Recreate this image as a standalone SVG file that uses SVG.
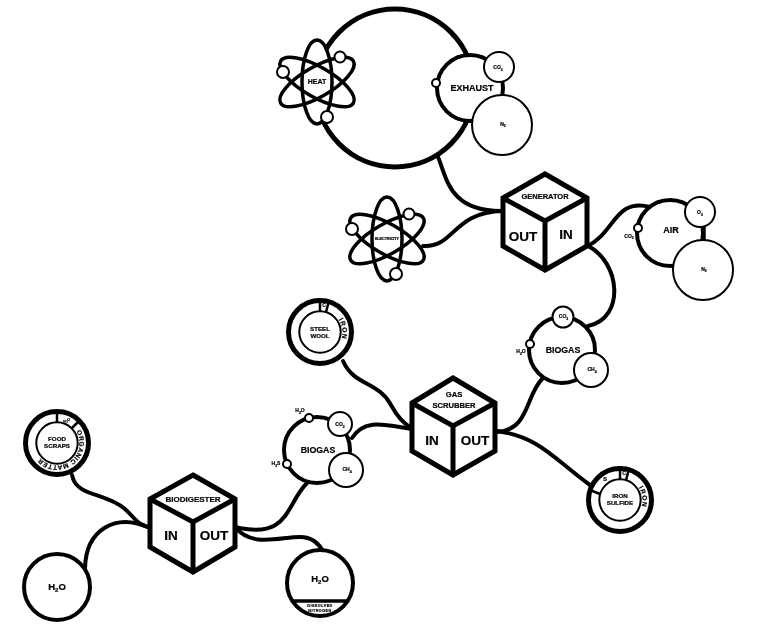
<svg xmlns="http://www.w3.org/2000/svg" width="764" height="630" viewBox="0 0 764 630">
<style>
text{font-family:"Liberation Sans",Arial,sans-serif;font-weight:700;fill:#000;text-anchor:middle;stroke:#000;stroke-width:.2}
.con{fill:none;stroke:#000;stroke-width:4;stroke-linecap:round}
.n{fill:#fff;stroke:#000;stroke-width:4}
.b{fill:#fff;stroke:#000;stroke-width:5}
.t{fill:#fff;stroke:#000;stroke-width:2}
.w{fill:#fff;stroke:none}
.o{fill:none;stroke:#000;stroke-width:3.500}
.cube{fill:#fff;stroke:#000;stroke-width:5}
.in{fill:none;stroke:#000;stroke-width:5}
.l{fill:none;stroke:#000;stroke-width:2.500}
.i{fill:none;stroke:#000;stroke-width:2}
.xl{font-size:13.500px}.lg{font-size:9px}.md{font-size:8px}.sm{font-size:6.200px}.xs{font-size:5px}.xxs{font-size:3.700px}
.ring{font-size:6.500px;letter-spacing:1px;text-anchor:start}
</style>
<defs>
<path id="p-steel" d="M320 309.500A22.500 22.500 0 0 1 320 354.500"/>
<path id="p-iron" d="M620 477.500A22.500 22.500 0 0 1 620 522.500"/>
<path id="p-org" d="M57 420.500A22.500 22.500 0 1 1 56.900 420.500"/>
<g id="atom">
<ellipse class="w" rx="15" ry="42"/>
<ellipse class="w" rx="15" ry="42" transform="rotate(60)"/>
<ellipse class="w" rx="15" ry="42" transform="rotate(-60)"/>
<ellipse class="o" rx="15" ry="42"/>
<ellipse class="o" rx="15" ry="42" transform="rotate(60)"/>
<ellipse class="o" rx="15" ry="42" transform="rotate(-60)"/>
</g>
<filter id="flat" x="0" y="0" width="100%" height="100%" color-interpolation-filters="sRGB"><feOffset dx="0" dy="0"/></filter>
</defs>
<g filter="url(#flat)">
<rect width="764" height="630" fill="#fff"/>
<g id="connectors">
<path class="con" d="M438 157C447 178 449 212 503 211"/>
<path class="con" d="M423 246C455 248 452 212 503 211"/>
<path class="con" d="M588 246C615 232 615 198 650 207"/>
<path class="con" d="M588 246C620 262 626 318 588 326"/>
<path class="con" d="M543 378C525 395 530 430 497 432"/>
<path class="con" d="M497 431C540 437 555 460 590 485"/>
<path class="con" d="M343 361C354 386 378 381 391 405C397 416 403 424 412 428"/>
<path class="con" d="M352 438C365 418 385 425 412 429"/>
<path class="con" d="M235 527C290 540 285 505 307 483"/>
<path class="con" d="M235 527C252 548 280 537 300 537C312 537 318 543 323 551"/>
<path class="con" d="M72 475C76 497 105 492 125 509C135 518 138 526 150 527"/>
<path class="con" d="M85 568C86 530 115 512 150 528"/>
</g>
<g id="heat-cycle"><circle cx="395" cy="88" r="79" fill="#fff" stroke="#000" stroke-width="5"/></g>
<g id="heat">
<use href="#atom" transform="translate(317 82)"/>
<circle class="t" cx="340" cy="57" r="5.500"/><circle class="t" cx="283" cy="72" r="6"/><circle class="t" cx="327" cy="117" r="6"/>
<text x="317" y="83.500" font-size="7">HEAT</text>
</g>
<g id="exhaust">
<circle class="n" cx="470" cy="88" r="33"/>
<circle class="t" cx="499" cy="67" r="15"/>
<circle class="t" cx="502" cy="125" r="30"/>
<circle class="t" cx="436" cy="83" r="4"/>
<text class="lg" x="472" y="91">EXHAUST</text>
<text class="xs" x="498" y="69">CO<tspan font-size="3.500" dy="1.500">2</tspan></text>
<text class="xs" x="503" y="125.500">N<tspan font-size="3.500" dy="1.500">2</tspan></text>
</g>
<g id="electricity">
<use href="#atom" transform="translate(387 239)"/>
<circle class="t" cx="409" cy="214" r="5.500"/><circle class="t" cx="352" cy="229" r="6"/><circle class="t" cx="396" cy="274" r="6"/>
<text class="xxs" x="387" y="239.500">ELECTRICITY</text>
</g>
<g id="generator">
<path class="cube" d="M545 174L587 198V246L545 270L503 246V198Z"/>
<path class="in" d="M503 198L545 221L587 198M545 221V270"/>
<text x="545" y="199" font-size="7.500">GENERATOR</text>
<text class="xl" x="523" y="241">OUT</text>
<text class="xl" x="566" y="239">IN</text>
</g>
<g id="air">
<circle class="n" cx="670" cy="233" r="33"/>
<path d="M704 225V242" stroke="#000" stroke-width="3.500"/>
<circle class="t" cx="700" cy="212" r="15"/>
<circle class="t" cx="703" cy="270" r="30"/>
<circle class="t" cx="638" cy="228" r="4"/>
<text x="671" y="233" font-size="9">AIR</text>
<text class="xs" x="700" y="214">O<tspan font-size="3.500" dy="1.500">2</tspan></text>
<text class="xs" x="704" y="270.500">N<tspan font-size="3.500" dy="1.500">2</tspan></text>
<text class="xs" x="629" y="237.500">CO<tspan font-size="3.500" dy="1.500">2</tspan></text>
</g>
<g id="biogas-right">
<circle class="n" cx="562" cy="350" r="33"/>
<circle class="t" cx="563" cy="317" r="10.500"/>
<circle class="t" cx="591" cy="370" r="17"/>
<circle class="t" cx="530" cy="344" r="4"/>
<text x="563" y="353" font-size="8.800">BIOGAS</text>
<text class="xs" x="563.500" y="318">CO<tspan font-size="3.500" dy="1.500">2</tspan></text>
<text class="xs" x="592" y="371">CH<tspan font-size="3.500" dy="1.500">4</tspan></text>
<text class="xs" x="521" y="353">H<tspan font-size="3.500" dy="1.500">2</tspan><tspan dy="-1.500">O</tspan></text>
</g>
<g id="steel-wool">
<circle class="b" cx="320" cy="332" r="31.500"/>
<circle class="i" cx="320" cy="332" r="20.700"/>
<path class="l" d="M320 301V311M329 301L326 312"/>
<text class="xs" x="324" y="306.500">C</text>
<text class="ring"><textPath href="#p-steel" startOffset="22">IRON</textPath></text>
<text class="sm" x="320" y="331">STEEL</text>
<text class="sm" x="320" y="338">WOOL</text>
</g>
<g id="gas-scrubber">
<path class="cube" d="M453 378L495 403V451L453 475L412 451V403Z"/>
<path class="in" d="M412 403L453 426L495 403M453 426V475"/>
<text x="454" y="397" font-size="7.600">GAS</text>
<text x="454" y="408" font-size="7.600">SCRUBBER</text>
<text class="xl" x="432" y="445">IN</text>
<text class="xl" x="475" y="445">OUT</text>
</g>
<g id="biogas-left">
<circle class="n" cx="317" cy="450" r="33"/>
<circle class="t" cx="340" cy="424" r="12"/>
<circle class="t" cx="346" cy="470" r="17"/>
<circle class="t" cx="309" cy="418" r="4"/>
<circle class="t" cx="287" cy="464" r="4"/>
<text x="318" y="453" font-size="8.800">BIOGAS</text>
<text class="xs" x="340" y="426">CO<tspan font-size="3.500" dy="1.500">2</tspan></text>
<text class="xs" x="347" y="471">CH<tspan font-size="3.500" dy="1.500">4</tspan></text>
<text class="xs" x="300" y="412">H<tspan font-size="3.500" dy="1.500">2</tspan><tspan dy="-1.500">O</tspan></text>
<text class="xs" x="276" y="465">H<tspan font-size="3.500" dy="1.500">2</tspan><tspan dy="-1.500">S</tspan></text>
</g>
<g id="iron-sulfide">
<circle class="b" cx="620" cy="500" r="31.500"/>
<circle class="i" cx="620" cy="500" r="20.700"/>
<path class="l" d="M620 469V479M629 469L626 480M590 490L600 494"/>
<text class="xs" x="624" y="474.500">C</text>
<text class="sm" x="605" y="481">S</text>
<text class="ring"><textPath href="#p-iron" startOffset="22">IRON</textPath></text>
<text class="sm" x="620" y="498">IRON</text>
<text class="sm" x="620" y="505">SULFIDE</text>
</g>
<g id="food-scraps">
<circle class="b" cx="57" cy="443" r="31.500"/>
<circle class="i" cx="57" cy="443" r="20.700"/>
<path class="l" d="M57 412V422M79 421L72 428"/>
<text class="xxs" x="67" y="421.500" transform="rotate(-20 67 421)">H<tspan font-size="3" dy="1">2</tspan><tspan dy="-1">O</tspan></text>
<text class="ring" style="letter-spacing:.5px"><textPath href="#p-org" startOffset="23">ORGANIC MATTER</textPath></text>
<text class="sm" x="57" y="441">FOOD</text>
<text class="sm" x="57" y="448">SCRAPS</text>
</g>
<g id="water-in">
<circle class="n" cx="57" cy="587" r="33"/>
<text x="57" y="590" font-size="9.500">H<tspan font-size="6" dy="2">2</tspan><tspan dy="-2">O</tspan></text>
</g>
<g id="biodigester">
<path class="cube" d="M193 475L235 499V547L193 572L150 547V499Z"/>
<path class="in" d="M150 499L193 522L235 499M193 522V572"/>
<text class="md" x="193" y="502">BIODIGESTER</text>
<text class="xl" x="171" y="540">IN</text>
<text class="xl" x="214" y="540">OUT</text>
</g>
<g id="water-out">
<circle class="n" cx="320" cy="583" r="33"/>
<path d="M292 601H348" stroke="#000" stroke-width="3.500"/>
<text x="320" y="582" font-size="9.500">H<tspan font-size="6" dy="2">2</tspan><tspan dy="-2">O</tspan></text>
<text class="xxs" x="320" y="607" letter-spacing=".5">DISSOLVED</text>
<text class="xxs" x="320" y="612" letter-spacing=".5">NITROGEN</text>
</g>
</g>
</svg>
